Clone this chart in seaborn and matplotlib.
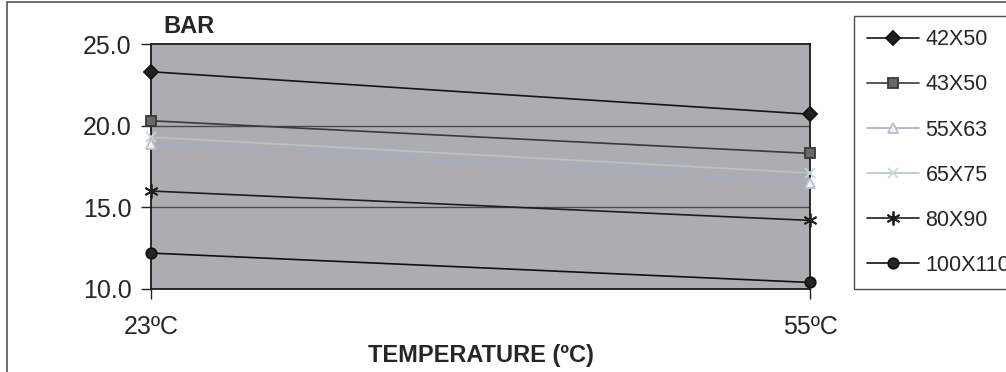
import pandas as pd
import numpy as np
import matplotlib.pyplot as plt
import seaborn as sns
from matplotlib.patches import Rectangle

# values (pressure in BAR at two temperatures)
temps = ["23ºC", "55ºC"]
pipes = ["42X50", "43X50", "55X63", "65X75", "80X90", "100X110"]
bar_42x50 = [23.3, 20.7]
bar_43x50 = [20.3, 18.3]
bar_55x63 = [18.9, 16.5]
bar_65x75 = [19.3, 17.1]
bar_80x90 = [16.0, 14.2]
bar_100x110 = [12.2, 10.4]
yticks = [10, 15, 20, 25]

values = [bar_42x50, bar_43x50, bar_55x63, bar_65x75, bar_80x90, bar_100x110]
df = pd.DataFrame({
    "temp": temps * len(pipes),
    "bar": np.concatenate(values),
    "pipe": np.repeat(pipes, len(temps)),
})

sns.set_style("white")
plt.rcParams["font.family"] = ["Liberation Sans", "DejaVu Sans"]

# line colour, marker, marker size, marker face, marker edge
styles = {
    "42X50":   ("#151515", "D", 7.0, "#202020", "#101010"),
    "43X50":   ("#3a3a3a", "s", 6.5, "#6a6a6a", "#3a3a3a"),
    "55X63":   ("#a4abc4", "^", 7.0, "#f2f2f6", "#b8bccc"),
    "65X75":   ("#b4c6ca", "x", 7.5, "none", "#c8d4d8"),
    "80X90":   ("#1e1e1e", (6, 2, 0), 10.0, "#1e1e1e", "#1e1e1e"),
    "100X110": ("#101010", "o", 7.5, "#252525", "#101010"),
}

fig = plt.figure(figsize=(10.06, 3.72), dpi=100)
ax = fig.add_axes([151 / 1006, 1 - 289 / 372, (810 - 151) / 1006, (289 - 44) / 372])
ax.set_facecolor("#acacb1")

for name in pipes:
    col, mk, ms, mfc, mec = styles[name]
    sub = df[df["pipe"] == name]
    sns.lineplot(data=sub, x="temp", y="bar", color=col, marker=mk, markersize=ms,
                 markerfacecolor=mfc, markeredgecolor=mec, markeredgewidth=1.3,
                 linewidth=1.2, ax=ax, label=name, clip_on=False, zorder=3)

ax.set_xlim(0, 1)
ax.set_ylim(10, 25)
ax.set_yticks(yticks)
ax.set_yticklabels([f"{t:.1f}" for t in yticks])
ax.set_xlabel("")
ax.set_ylabel("")
for y in [15, 20]:
    ax.axhline(y, color="#4e4258", lw=1.0, zorder=1)

ax.tick_params(axis="both", labelsize=18, direction="out", length=7, width=1, color="#222222")
ax.tick_params(axis="y", pad=7, left=True)
ax.tick_params(axis="x", pad=12, bottom=True)
for s in ax.spines.values():
    s.set_color("#1a1a1a")
    s.set_linewidth(1.3)

handles, labels = ax.get_legend_handles_labels()
ax.get_legend().remove()
leg = fig.legend(handles, labels, loc="upper left", bbox_to_anchor=(854 / 1006, 1 - 16 / 372),
                 bbox_transform=fig.transFigure, fontsize=15.5, frameon=True, fancybox=False,
                 edgecolor="#222222", labelspacing=1.12, handlelength=2.4, handletextpad=0.3,
                 borderpad=0.62, borderaxespad=0)
leg.get_frame().set_linewidth(1.0)

fig.text(163 / 1006, 1 - 33 / 372, "BAR", fontsize=17, fontweight="bold", va="baseline")
fig.text(481 / 1006, 1 - 362 / 372, "TEMPERATURE (ºC)", fontsize=17, fontweight="bold",
         ha="center", va="baseline")

fig.patches.append(Rectangle((7 / 1006, -0.1), 1.2, 1.1 - 2 / 372, transform=fig.transFigure,
                             fill=False, edgecolor="#555555", linewidth=1.2))

fig.savefig("out.png", dpi=100)
